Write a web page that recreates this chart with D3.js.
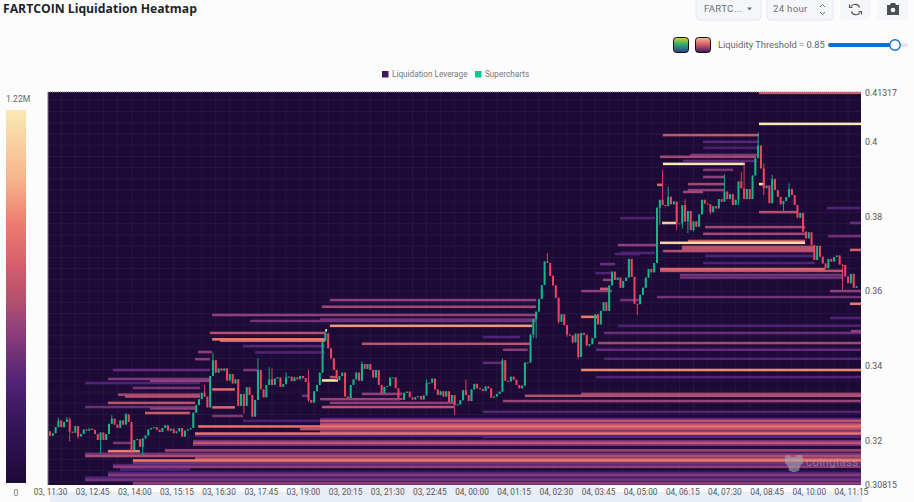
<!DOCTYPE html>
<html><head><meta charset="utf-8">
<style>html,body{margin:0;padding:0;background:#fcfcfc;overflow:hidden}svg{display:block}text{font-family:Roboto,Inter,sans-serif}</style>
<script src="https://cdn.jsdelivr.net/npm/d3@7"></script></head><body><svg id="c" width="914" height="502"></svg>
<script>
const xTickLabels=["03, 11:30","03, 12:45","03, 14:00","03, 15:15","03, 16:30","03, 17:45","03, 19:00","03, 20:15","03, 21:30","03, 22:45","04, 00:00","04, 01:15","04, 02:30","04, 03:45","04, 05:00","04, 06:15","04, 07:30","04, 08:45","04, 10:00","04, 11:15"];
const yTicks=[0.41317,0.4,0.38,0.36,0.34,0.32,0.30815];
const candleClose=[
.3213,.3220,.3236,.3254,.3236,.3250,.3257,.3224,.3221,.3239,
.3211,.3218,.3230,.3227,.3232,.3229,.3218,.3202,.3222,.3202,
.3218,.3245,.3259,.3243,.3234,.3254,.3243,.3270,.3250,.3174,
.3202,.3204,.3184,.3206,.3214,.3230,.3234,.3236,.3229,.3223,
.3234,.3241,.3227,.3232,.3220,.3225,.3234,.3211,.3227,.3230,
.3234,.3275,.3295,.3311,.3328,.3318,.3289,.3373,.3415,.3382,
.3393,.3387,.3393,.3361,.3378,.3353,.3364,.3293,.3325,.3293,
.3343,.3322,.3264,.3309,.3389,.3337,.3316,.3349,.3364,.3349,
.3366,.3369,.3344,.3351,.3369,.3371,.3359,.3369,.3364,.3373,
.3367,.3357,.3309,.3302,.3332,.3349,.3382,.3467,.3487,.3447,
.3420,.3389,.3362,.3373,.3382,.3318,.3314,.3349,.3364,.3382,
.3360,.3405,.3392,.3405,.3389,.3369,.3389,.3349,.3327,.3344,
.3346,.3369,.3369,.3340,.3314,.3309,.3328,.3331,.3316,.3310,
.3316,.3319,.3310,.3321,.3355,.3355,.3366,.3337,.3322,.3332,
.3318,.3332,.3304,.3322,.3295,.3297,.3308,.3335,.3322,.3306,
.3337,.3352,.3340,.3338,.3333,.3345,.3340,.3315,.3318,.3325,
.3331,.3415,.3360,.3358,.3371,.3363,.3349,.3340,.3347,.3409,
.3409,.3484,.3525,.3545,.3579,.3616,.3679,.3675,.3641,.3615,
.3582,.3518,.3538,.3509,.3484,.3481,.3463,.3486,.3424,.3488,
.3483,.3454,.3458,.3474,.3538,.3511,.3547,.3570,.3547,.3615,
.3652,.3630,.3636,.3609,.3627,.3636,.3686,.3638,.3566,.3565,
.3590,.3609,.3636,.3659,.3650,.3675,.3823,.3844,.3830,.3827,
.3852,.3832,.3839,.3781,.3781,.3830,.3786,.3814,.3763,.3786,
.3772,.3805,.3844,.3834,.3832,.3811,.3827,.3821,.3846,.3839,
.3866,.3846,.3859,.3830,.3844,.3893,.3875,.3846,.3873,.3846,
.3909,.3955,.3989,.3928,.3875,.3882,.3835,.3900,.3870,.3852,
.3832,.3841,.3851,.3873,.3857,.3830,.3796,.3809,.3759,.3741,
.3757,.3723,.3683,.3721,.3692,.3674,.3661,.3686,.3679,.3691,
.3695,.3671,.3670,.3639,.3621,.3646,.3609,.3613];
const firstOpen=.3225;
const wickHighIndex=[3,6,7,22,27,55,58,74,78,79,84,92,98,111,117,134,148,161,177,218,220,226,240,246,247,252,254,257,263];
const wickHighPrice=[.3262,.3263,.3262,.3268,.3274,.3349,.3435,.3420,.3396,.3393,.3382,.3389,.3496,.3412,.3389,.3364,.3364,.3420,.3701,.3924,.3879,.3846,.3912,.3919,.3941,.4025,.3941,.3911,.3888];
const wickLowIndex=[7,10,18,29,33,69,92,144,172,173,181,184,186,188,192,209,217,223,225,227,229,235,245,254,261,282];
const wickLowPrice=[.3198,.3205,.3166,.3166,.3162,.3273,.3304,.3269,.3474,.3474,.3513,.3478,.3460,.3420,.3452,.3536,.3777,.3764,.3767,.3755,.3759,.3805,.3830,.3857,.3814,.3603];
// Liquidity bands: start and end as candle positions, price level, liquidation amount in millions
const bandStart=[252.3,252.3,218.1,232.4,232.4,227.8,217.1,225.3,218.1,232.4,232.4,227,216,227,225.3,252.3,276.5,217.8,284.7,233.1,232.4,276.9,227,217.1,224.9,224.9,218.1,284.7,233.1,232.4,217.1,217.1,224.2,224.2,277.6,216,284.7,277.6,202.1,285,197.2,195,194.3,197.2,189,194.3,169,189,161.2,154.1,68.7,96.1,96.1,52.7,89,51.6,154.1,50.9,22.4,20.6,40.9,12.5,51.6,29.5,22.4,24.9,20.6,12.5,29.5,57.7,96.8,99.6,96.1,71.2,99.6,111,161.2,154.1,154.1,56.9,57.7,60.5,68.7,52.7,73,51.6,22.4,68.7,20.6,35.6,12.5,29.5,24.2,26.7,20.6,12.5,35.6,57.7,57.7,33.8,57.7,111,96.1,99.6,96.8,89.7,99.6,96.8,97.9,189,195.7,195.7,201,202.1,194,196.8,202.8,189,202.8,202.8,252.3,
96.1,96.1,96.1,96.1,51.6,50.9,50.9,12.5,29.5,22.4,20.6,12.5,29.5];
const bandEnd=[288.6,288.6,252.3,252.3,252.3,251.6,251.2,251.6,247.3,243.1,240.2,240.2,217.8,240.2,232.4,266.2,288.6,222.8,288.6,268.7,268.7,288.6,268.7,268.7,272.2,272.2,272.2,288.6,272.2,272.2,275.8,282.2,282.2,282.2,288.6,288.6,288.6,288.6,288.6,288.6,288.6,288.6,288.6,288.6,288.6,288.6,288.6,288.6,288.6,288.6,96.1,288.6,288.6,288.6,288.6,288.6,288.6,288.6,29.2,32,288.6,288.6,288.6,288.6,288.6,49.8,288.6,288.6,288.6,173,173,173,173,173,171.5,170.8,170,161.2,167.3,97.9,97.9,97.9,97.9,57.7,97.9,56.9,56.9,73.7,56.9,56.9,53.4,53.4,53.4,53.4,51.6,51.6,51.6,65.8,65.8,49.8,68.7,125.3,124.6,144.1,143.8,91.8,102.1,102.5,98.6,200,199.3,201.1,210,216.4,200,200,210,195,215.3,215.3,254.4,
288.6,288.6,288.6,288.6,288.6,288.6,288.6,288.6,288.6,288.6,288.6,288.6,288.6];
const bandPrice=[.4130,.4047,.4017,.3999,.3983,.3964,.3959,.3948,.3940,.3924,.3905,.3886,.3884,.3870,.3865,.3811,.3822,.3782,.3782,.3771,.3753,.3747,.3734,.3729,.3718,.3713,.3707,.3710,.3694,.3675,.3659,.3654,.3643,.3636,.3600,.3584,.3566,.3528,.3507,.3493,.3488,.3461,.3443,.3419,.3389,.3370,.3320,.3325,.3306,.3277,.3253,.3253,.3246,.3238,.3231,.3219,.3210,.3194,.3194,.3172,.3174,.3159,.3152,.3147,.3130,.3123,.3108,.3095,.3087,.3536,.3558,.3576,.3524,.3520,.3507,.3459,.3443,.3408,.3477,.3488,.3471,.3467,.3453,.3437,.3436,.3418,.3389,.3389,.3365,.3360,.3354,.3341,.3323,.3318,.3301,.3290,.3286,.3337,.3289,.3274,.3266,.3325,.3311,.3301,.3290,.3320,.3370,.3361,.3495,.3600,.3606,.3672,.3699,.3723,.3648,.3630,.3576,.3531,.3702,.3795,.3886,
.3258,.3243,.3234,.3224,.3213,.3199,.3189,.3165,.3140,.3135,.3114,.3101,.3084];
const bandValue=[.7,1.22,.65,.35,.3,.45,.55,.35,1.22,.45,.5,.55,.75,.5,.55,.6,.32,1.1,.4,.55,.55,.42,.65,1.15,.6,.62,.6,.72,.32,.32,.75,.62,.42,.42,.5,.42,.85,.32,.32,.5,.4,.55,.38,.33,.88,.33,.6,.55,.52,.35,.3,.65,.42,.8,.6,.82,.35,.65,.45,.85,.55,.58,.62,.85,.5,.33,.48,.42,.5,.5,.55,.5,.42,.42,.92,.62,.48,.38,.33,.6,.85,.7,.35,.5,.33,.48,.38,.45,.45,.5,.33,.45,.55,.6,.62,.4,.5,.78,.75,.68,.45,.5,.52,.5,.62,.42,.6,1.2,1.2,.5,.65,.4,.33,.5,.33,.5,.42,.85,.33,.32,1.2,
.33,.65,.55,.5,.33,.42,.42,.42,.42,.33,.33,.33,.4];
const colorStops=[0,.12,.22,.33,.5,.6,.72,.85,1.0,1.22];
const colorValues=["#1d0a36","#2c1150","#3b1760","#512377","#8f3f7a","#b5506f","#d85f6c","#ee7b6e","#f6b68c","#fae9b4"];

const svg=d3.select("#c");
const defs=svg.append("defs");
const X0=48,X1=861,Y0=92,Y1=485;
const x=d3.scaleLinear().domain([0,287]).range([50,856.5]);
const y=d3.scaleLinear().domain([0.30815,0.41317]).range([485,92.2]);
const color=d3.scaleLinear().domain(colorStops).range(colorValues);
const bar=d3.scaleLinear().domain([0,1.22]).range([483,110]);
defs.append("clipPath").attr("id","plot").append("rect").attr("x",X0).attr("y",Y0).attr("width",X1-X0).attr("height",Y1-Y0);
const g=defs.append("linearGradient").attr("id","cb").attr("x1",0).attr("x2",0).attr("y1",1).attr("y2",0);
colorStops.forEach((s,i)=>g.append("stop").attr("offset",s/1.22).attr("stop-color",colorValues[i]));

// header
svg.append("text").attr("x",3).attr("y",13).attr("font-size",12.2).attr("font-weight",700).attr("fill","#1f2328").style("font-family","'Open Sans'").text("FARTCOIN Liquidation Heatmap");
function box(a,w){svg.append("rect").attr("x",a).attr("y",-6).attr("width",w).attr("height",26).attr("rx",4).attr("fill","#f4f6fa").attr("stroke","#e6eaf2");}
box(696,65);box(767,66);
svg.append("rect").attr("x",840).attr("y",-6).attr("width",31).attr("height",26).attr("rx",4).attr("fill","#f4f6fa");
svg.append("rect").attr("x",877).attr("y",-6).attr("width",31).attr("height",26).attr("rx",4).attr("fill","#f4f6fa");
svg.append("text").attr("x",704).attr("y",12).attr("font-size",9.6).attr("fill","#6b6f76").attr("letter-spacing",.3).text("FARTC...");
svg.append("path").attr("d","M747 7.5h5l-2.5 3z").attr("fill","#6b6f76");
svg.append("text").attr("x",773).attr("y",12).attr("font-size",9.6).attr("fill","#6b6f76").attr("letter-spacing",.3).text("24 hour");
svg.append("path").attr("d","M820 7l2.5-2.5L825 7M820 12l2.5 2.5L825 12").attr("fill","none").attr("stroke","#6b6f76");
svg.append("path").attr("d","M851 6.5a4.8 4.8 0 0 1 8.6 1M860 12.5a4.8 4.8 0 0 1-8.6-1M849.5 4.5v3h3M861.5 14.5v-3h-3").attr("fill","none").attr("stroke","#555").attr("stroke-width",1.2);
svg.append("path").attr("d","M887 5h3l1-2h4l1 2h3v10h-12z").attr("fill","#4a4d52");
svg.append("circle").attr("cx",893).attr("cy",10).attr("r",2.3).attr("fill","#f4f6fa");
// threshold row
const sw1=defs.append("linearGradient").attr("id","s1").attr("x1",0).attr("x2",0).attr("y1",0).attr("y2",1);
[["0","#e3d027"],[".45","#2fae6d"],["1","#2f3c8f"]].forEach(d=>sw1.append("stop").attr("offset",d[0]).attr("stop-color",d[1]));
const sw2=defs.append("linearGradient").attr("id","s2").attr("x1",0).attr("x2",0).attr("y1",0).attr("y2",1);
[["0","#f4c08f"],[".45","#d85f6c"],["1","#3b1760"]].forEach(d=>sw2.append("stop").attr("offset",d[0]).attr("stop-color",d[1]));
svg.append("rect").attr("x",673.5).attr("y",37.5).attr("width",15).attr("height",15).attr("rx",3).attr("fill","url(#s1)").attr("stroke","#111");
svg.append("rect").attr("x",695.5).attr("y",37.5).attr("width",15).attr("height",15).attr("rx",3).attr("fill","url(#s2)").attr("stroke","#111");
svg.append("text").attr("x",718).attr("y",47.5).attr("font-size",9.35).attr("fill","#666").text("Liquidity Threshold = 0.85");
svg.append("rect").attr("x",828).attr("y",43).attr("width",80).attr("height",4).attr("rx",2).attr("fill","#dfe6f2");
svg.append("rect").attr("x",828).attr("y",43).attr("width",67).attr("height",4).attr("rx",2).attr("fill","#1170cc");
svg.append("circle").attr("cx",895).attr("cy",45).attr("r",5.2).attr("fill","#fff").attr("stroke","#1170cc").attr("stroke-width",1.4);
// legend
svg.append("rect").attr("x",382).attr("y",71).attr("width",6.5).attr("height",6.5).attr("fill","#3d1763");
svg.append("text").attr("x",392).attr("y",77).attr("font-size",8.2).attr("fill","#777").text("Liquidation Leverage");
svg.append("rect").attr("x",475).attr("y",71).attr("width",6.5).attr("height",6.5).attr("fill","#12c98e");
svg.append("text").attr("x",485).attr("y",77).attr("font-size",8.2).attr("fill","#777").text("Supercharts");
// colour bar
svg.append("rect").attr("x",6).attr("y",bar(1.22)).attr("width",20).attr("height",bar(0)-bar(1.22)).attr("fill","url(#cb)");
svg.append("text").attr("x",6).attr("y",102).attr("font-size",8.6).attr("fill","#666").text("1.22M");
svg.append("text").attr("x",16).attr("y",496).attr("font-size",8.6).attr("fill","#777").attr("text-anchor","middle").text("0");
// axis strip
svg.append("rect").attr("x",50).attr("y",492).attr("width",812).attr("height",10).attr("fill","#e9edf8");
svg.append("rect").attr("x",300).attr("y",486).attr("width",300).attr("height",16).attr("fill","#e9edf8");
// plot
const plot=svg.append("g").attr("clip-path","url(#plot)");
plot.append("rect").attr("x",X0).attr("y",Y0).attr("width",X1-X0).attr("height",Y1-Y0).attr("fill",colorValues[0]);
const grid=plot.append("g").attr("stroke","#2b1945").attr("stroke-width",.8);
grid.selectAll("line.v").data(d3.range(-1,290,5)).join("line").attr("class","v").attr("x1",d=>x(d)).attr("x2",d=>x(d)).attr("y1",Y0).attr("y2",Y1);
grid.selectAll("line.h").data(d3.range(0.309,0.4135,0.003)).join("line").attr("class","h").attr("y1",d=>y(d)).attr("y2",d=>y(d)).attr("x1",X0).attr("x2",X1);
const BIN=0.00068;
const bandOrder=d3.range(bandPrice.length).sort((a,b)=>bandValue[a]-bandValue[b]);
plot.append("g").selectAll("rect").data(bandOrder).join("rect")
 .attr("x",i=>x(bandStart[i])).attr("width",i=>x(bandEnd[i])-x(bandStart[i]))
 .attr("y",i=>y(bandPrice[i]+BIN/2)).attr("height",i=>y(bandPrice[i]-BIN/2)-y(bandPrice[i]+BIN/2))
 .attr("fill",i=>color(bandValue[i]));
const candles=candleClose.map((c,i)=>({i,o:i?candleClose[i-1]:firstOpen,c}));
candles.forEach(d=>{d.h=Math.max(d.o,d.c);d.l=Math.min(d.o,d.c);});
wickHighIndex.forEach((k,j)=>{candles[k].h=Math.max(candles[k].h,wickHighPrice[j]);});
wickLowIndex.forEach((k,j)=>{candles[k].l=Math.min(candles[k].l,wickLowPrice[j]);});
const GREEN="#12b886",RED="#f4435f";
const cg=plot.append("g");
cg.selectAll("line").data(candles).join("line").attr("x1",d=>x(d.i)).attr("x2",d=>x(d.i)).attr("y1",d=>y(d.h)).attr("y2",d=>y(d.l)).attr("stroke",d=>d.c>=d.o?GREEN:RED).attr("stroke-width",.9);
cg.selectAll("rect").data(candles).join("rect").attr("x",d=>x(d.i)-1).attr("width",2)
 .attr("y",d=>y(Math.max(d.o,d.c))).attr("height",d=>Math.max(1,Math.abs(y(d.o)-y(d.c)))).attr("fill",d=>d.c>=d.o?GREEN:RED);
// frame
svg.append("line").attr("x1",48).attr("x2",48).attr("y1",Y0).attr("y2",Y1).attr("stroke","#777");
svg.append("line").attr("x1",48).attr("x2",861).attr("y1",Y0).attr("y2",Y0).attr("stroke","#888").attr("stroke-dasharray","1 1");
// axes
const ax=d3.axisRight(y).tickValues(yTicks).tickSize(0).tickPadding(4).tickFormat(d=>String(d));
const ga=svg.append("g").attr("transform",`translate(${X1},0)`).call(ax);
ga.select(".domain").remove();ga.selectAll("text").attr("font-size",8.8).attr("fill","#555").style("font-family","Roboto");
const bx=d3.axisBottom(x).tickValues(xTickLabels.map((d,i)=>i*15)).tickSize(0).tickPadding(0).tickFormat((d,i)=>xTickLabels[i]);
const gb=svg.append("g").attr("transform","translate(0,489.5)").call(bx);
gb.select(".domain").remove();gb.selectAll("text").attr("font-size",8.3).attr("fill","#555").style("font-family","Roboto");
// watermark
const wm=svg.append("g").attr("opacity",.6);
wm.append("text").attr("x",806).attr("y",466).attr("font-size",11.5).attr("fill","#a8a8b2").attr("letter-spacing",.4).text("coinglass");
wm.append("path").attr("d","M789 455l2 2h4l2-2 4 0 2 2v6l-3 3-1 5h-2l-1 1h-4l-1-1h-2l-1-5-3-3v-6l2-2z").attr("fill","#a8a8b2");
</script></body></html>
